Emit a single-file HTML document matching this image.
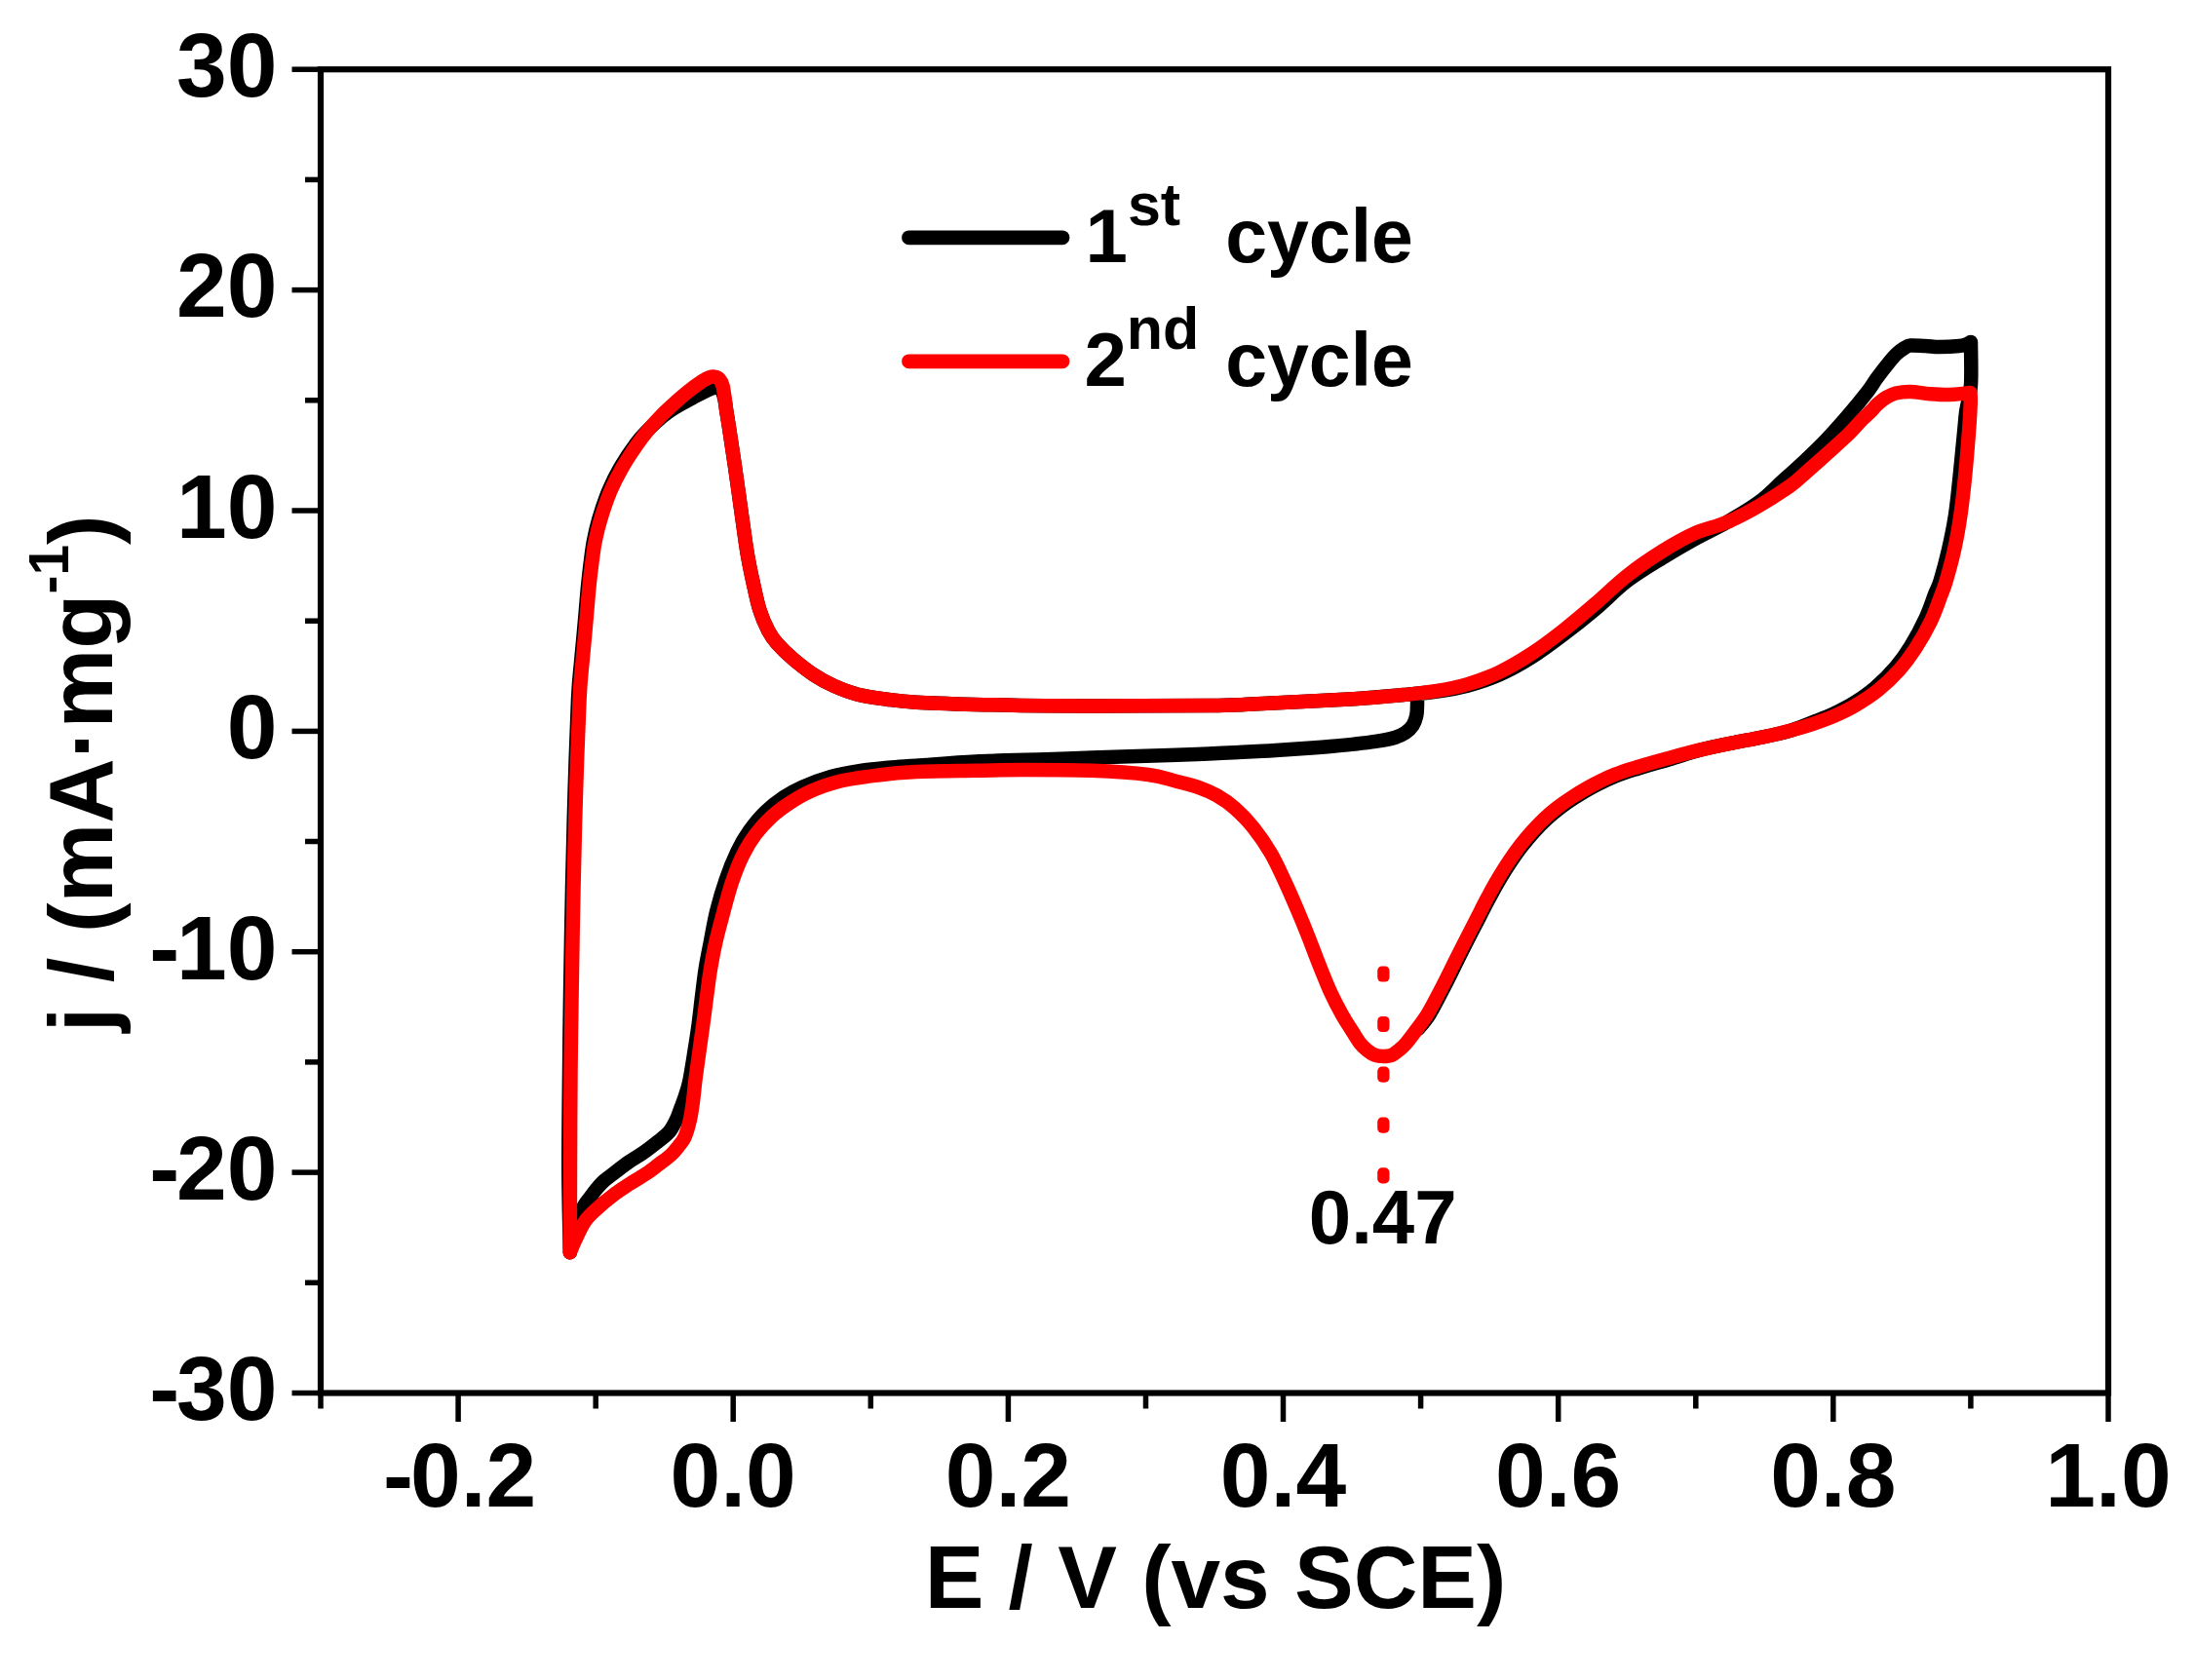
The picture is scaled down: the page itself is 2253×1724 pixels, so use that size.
<!DOCTYPE html>
<html lang="en"><head><meta charset="utf-8"><title>Cyclic voltammogram</title>
<style>html,body{margin:0;padding:0;background:#fff;}body{width:2253px;height:1724px;overflow:hidden;}svg{display:block;}text{font-family:"Liberation Sans", Arial, Helvetica, sans-serif;font-weight:bold;fill:#000;}</style></head><body>
<svg width="2253" height="1724" viewBox="0 0 2253 1724">
<rect x="0" y="0" width="2253" height="1724" fill="#fff"/>
<g stroke="#000" fill="none" stroke-linecap="butt">
<rect x="329.0" y="71.2" width="1834.0" height="1358.3" stroke-width="6.2"/>
<line x1="299.5" y1="1429.5" x2="329.0" y2="1429.5" stroke-width="5.5"/>
<line x1="313.0" y1="1316.3" x2="329.0" y2="1316.3" stroke-width="5.5"/>
<line x1="299.5" y1="1203.1" x2="329.0" y2="1203.1" stroke-width="5.5"/>
<line x1="313.0" y1="1089.9" x2="329.0" y2="1089.9" stroke-width="5.5"/>
<line x1="299.5" y1="976.7" x2="329.0" y2="976.7" stroke-width="5.5"/>
<line x1="313.0" y1="863.5" x2="329.0" y2="863.5" stroke-width="5.5"/>
<line x1="299.5" y1="750.4" x2="329.0" y2="750.4" stroke-width="5.5"/>
<line x1="313.0" y1="637.2" x2="329.0" y2="637.2" stroke-width="5.5"/>
<line x1="299.5" y1="524.0" x2="329.0" y2="524.0" stroke-width="5.5"/>
<line x1="313.0" y1="410.8" x2="329.0" y2="410.8" stroke-width="5.5"/>
<line x1="299.5" y1="297.6" x2="329.0" y2="297.6" stroke-width="5.5"/>
<line x1="313.0" y1="184.4" x2="329.0" y2="184.4" stroke-width="5.5"/>
<line x1="299.5" y1="71.2" x2="329.0" y2="71.2" stroke-width="5.5"/>
<line x1="329.0" y1="1429.5" x2="329.0" y2="1445.5" stroke-width="5.5"/>
<line x1="470.1" y1="1429.5" x2="470.1" y2="1459.0" stroke-width="5.5"/>
<line x1="611.2" y1="1429.5" x2="611.2" y2="1445.5" stroke-width="5.5"/>
<line x1="752.2" y1="1429.5" x2="752.2" y2="1459.0" stroke-width="5.5"/>
<line x1="893.3" y1="1429.5" x2="893.3" y2="1445.5" stroke-width="5.5"/>
<line x1="1034.4" y1="1429.5" x2="1034.4" y2="1459.0" stroke-width="5.5"/>
<line x1="1175.5" y1="1429.5" x2="1175.5" y2="1445.5" stroke-width="5.5"/>
<line x1="1316.5" y1="1429.5" x2="1316.5" y2="1459.0" stroke-width="5.5"/>
<line x1="1457.6" y1="1429.5" x2="1457.6" y2="1445.5" stroke-width="5.5"/>
<line x1="1598.7" y1="1429.5" x2="1598.7" y2="1459.0" stroke-width="5.5"/>
<line x1="1739.8" y1="1429.5" x2="1739.8" y2="1445.5" stroke-width="5.5"/>
<line x1="1880.8" y1="1429.5" x2="1880.8" y2="1459.0" stroke-width="5.5"/>
<line x1="2021.9" y1="1429.5" x2="2021.9" y2="1445.5" stroke-width="5.5"/>
<line x1="2163.0" y1="1429.5" x2="2163.0" y2="1459.0" stroke-width="5.5"/>
</g>
<g font-size="93" text-anchor="end">
<text x="284.5" y="1457.3">-<tspan dx="-3.2">30</tspan></text>
<text x="284.5" y="1230.9">-<tspan dx="-3.2">20</tspan></text>
<text x="284.5" y="1004.5">-<tspan dx="-3.2">10</tspan></text>
<text x="284.5" y="778.1">0</text>
<text x="284.5" y="551.8">10</text>
<text x="284.5" y="325.4">20</text>
<text x="284.5" y="99.0">30</text>
</g>
<g font-size="93" text-anchor="middle">
<text x="471.6" y="1546.3">-<tspan dx="-3">0.2</tspan></text>
<text x="752.2" y="1546.3">0.0</text>
<text x="1034.4" y="1546.3">0.2</text>
<text x="1316.5" y="1546.3">0.4</text>
<text x="1598.7" y="1546.3">0.6</text>
<text x="1880.8" y="1546.3">0.8</text>
<text x="2163.0" y="1546.3">1.0</text>
</g>
<text x="1247" y="1650.3" font-size="91" text-anchor="middle">E / V (vs SCE)</text>
<text transform="translate(114.7 793.8) rotate(-90)" font-size="92" text-anchor="middle">j / (mA·mg<tspan font-size="57" dy="-44.8">-1</tspan><tspan dy="44.8">)</tspan></text>
<path d="M1454.0 714.0C1454.0 715.6 1454.1 720.3 1454.0 723.7C1453.9 727.1 1454.0 731.1 1453.2 734.6C1452.4 738.1 1451.3 741.6 1449.4 744.5C1447.5 747.4 1444.8 749.9 1441.7 752.0C1438.6 754.1 1435.9 755.5 1430.8 757.0C1425.7 758.5 1417.9 759.8 1411.0 760.9C1404.1 762.0 1396.6 762.8 1389.3 763.6C1382.0 764.4 1374.7 765.2 1367.4 765.8C1360.1 766.4 1352.9 766.9 1345.6 767.4C1338.3 767.9 1331.0 768.5 1323.7 769.0C1316.4 769.5 1309.2 770.0 1301.9 770.4C1294.6 770.8 1290.3 771.1 1280.0 771.6C1269.7 772.1 1253.3 772.8 1240.0 773.4C1226.7 774.0 1220.0 774.3 1200.0 775.0C1180.0 775.7 1141.2 776.9 1120.0 777.6C1098.8 778.3 1092.8 778.6 1073.0 779.3C1053.2 779.9 1023.2 780.4 1001.0 781.5C978.8 782.6 955.0 784.7 940.0 785.7C925.0 786.7 920.9 786.8 911.1 787.7C901.4 788.6 891.3 789.6 881.5 791.1C871.7 792.6 862.2 794.2 852.5 797.0C842.8 799.8 831.4 804.1 823.4 807.6C815.4 811.1 810.6 813.8 804.2 818.1C797.8 822.4 791.1 827.5 785.2 833.2C779.3 838.9 773.7 845.8 768.9 852.5C764.1 859.2 760.5 865.3 756.5 873.6C752.5 881.9 748.3 892.3 744.8 902.5C741.2 912.7 737.8 924.4 735.2 935.0C732.6 945.6 730.9 956.1 729.0 966.0C727.1 975.9 725.2 984.8 723.7 994.3C722.2 1003.8 721.2 1013.5 720.0 1023.0C718.8 1032.5 717.9 1041.9 716.6 1051.4C715.3 1060.9 713.8 1070.5 712.3 1080.0C710.8 1089.5 709.0 1101.2 707.5 1108.6C706.0 1116.0 704.5 1119.9 703.0 1124.6C701.5 1129.3 700.0 1132.9 698.5 1137.0C697.0 1141.1 695.8 1145.1 693.8 1149.2C691.8 1153.3 689.7 1157.8 686.6 1161.5C683.5 1165.2 679.1 1168.2 675.0 1171.5C670.9 1174.8 667.0 1178.0 662.0 1181.5C657.0 1185.0 650.2 1188.9 645.0 1192.5C639.8 1196.1 635.2 1199.8 631.0 1203.0C626.8 1206.2 623.2 1208.7 620.0 1211.5C616.8 1214.3 614.3 1217.2 612.0 1220.0C609.7 1222.8 608.0 1225.3 606.0 1228.0C604.0 1230.7 602.0 1232.8 600.0 1236.0C598.0 1239.2 595.7 1243.3 594.0 1247.0C592.3 1250.7 591.3 1253.8 590.0 1258.0C588.7 1262.2 586.9 1267.5 586.0 1272.0C585.1 1276.5 585.0 1283.1 584.8 1285.3C584.5 1271.1 583.4 1230.9 583.3 1200.0C583.2 1169.1 583.7 1130.0 584.0 1100.0C584.3 1070.0 584.5 1051.5 585.0 1020.0C585.5 988.5 586.2 945.3 587.0 911.0C587.8 876.7 588.5 846.3 589.5 814.0C590.5 781.7 591.9 739.3 593.0 717.0C594.1 694.7 595.0 691.2 596.0 680.0C597.0 668.8 598.0 659.2 598.8 650.0C599.6 640.8 600.3 633.3 601.0 625.0C601.7 616.7 602.4 607.8 603.2 600.0C604.0 592.2 604.8 585.3 605.7 578.0C606.6 570.7 607.4 563.5 608.8 556.0C610.2 548.5 611.6 541.8 614.2 533.0C616.8 524.2 620.7 512.4 624.4 503.5C628.1 494.6 631.6 487.8 636.3 479.7C641.0 471.6 647.7 461.5 652.6 455.0C657.5 448.5 661.3 444.9 665.5 440.5C669.7 436.1 673.9 432.2 678.0 428.8C682.1 425.4 684.5 423.3 690.0 419.8C695.5 416.3 704.6 411.4 711.0 408.0C717.4 404.6 724.3 400.9 728.5 399.2C732.7 397.5 733.9 397.5 736.0 398.0C738.1 398.5 739.8 400.0 741.0 402.0C742.2 404.0 742.8 406.7 743.5 410.0C744.2 413.3 744.5 417.0 745.3 422.0C746.1 427.0 746.8 430.9 748.2 440.0C749.6 449.1 751.6 462.3 753.7 476.6C755.8 490.9 758.4 510.4 760.6 525.7C762.8 541.0 764.8 556.7 766.8 568.6C768.8 580.5 770.4 587.6 772.5 597.1C774.6 606.6 776.7 617.4 779.3 625.7C781.9 634.0 785.2 641.4 788.2 647.1C791.2 652.8 792.7 655.1 797.0 660.0C801.3 664.9 807.6 671.1 814.0 676.5C820.4 681.9 828.2 688.1 835.1 692.6C842.0 697.1 847.7 700.4 855.2 703.7C862.7 707.1 871.0 710.4 880.2 712.7C889.4 715.0 900.3 716.4 910.3 717.7C920.3 719.0 925.3 719.8 940.3 720.7C955.2 721.6 977.9 722.3 1000.0 722.9C1022.1 723.5 1044.5 724.1 1073.0 724.3C1101.5 724.5 1143.2 724.3 1171.0 724.3C1198.8 724.2 1221.8 724.2 1240.0 724.0C1258.2 723.8 1255.2 723.9 1280.0 722.8C1304.8 721.7 1362.3 718.8 1389.0 717.2C1415.7 715.6 1426.0 714.2 1440.0 713.0C1454.0 711.8 1461.9 711.2 1472.8 709.7C1483.7 708.2 1494.7 706.6 1505.6 703.7C1516.5 700.8 1527.5 697.2 1538.4 692.4C1549.3 687.6 1560.2 681.6 1571.1 674.7C1582.0 667.9 1593.0 659.6 1603.9 651.3C1614.8 643.0 1625.8 634.3 1636.7 625.1C1647.6 615.9 1658.0 604.9 1669.5 596.1C1681.0 587.3 1694.1 579.6 1705.6 572.5C1717.1 565.4 1727.5 559.3 1738.4 553.3C1749.3 547.2 1760.0 542.6 1771.1 536.2C1782.2 529.8 1795.1 522.2 1804.8 515.1C1814.5 508.0 1821.3 500.4 1829.0 493.5C1836.7 486.6 1843.7 480.4 1851.0 473.5C1858.3 466.6 1865.7 459.7 1873.0 452.0C1880.3 444.3 1887.8 435.8 1895.0 427.5C1902.2 419.2 1910.9 408.6 1916.0 402.0C1921.1 395.4 1921.9 393.0 1925.6 388.0C1929.3 383.0 1934.6 376.2 1938.0 372.0C1941.4 367.8 1943.3 365.5 1946.0 363.0C1948.7 360.5 1951.7 358.4 1954.0 357.0C1956.3 355.6 1956.5 354.8 1960.0 354.5C1963.5 354.2 1970.0 354.8 1975.0 355.0C1980.0 355.2 1984.2 356.0 1990.0 356.0C1995.8 356.0 2005.3 355.5 2010.0 355.0C2014.7 354.5 2016.0 353.7 2018.0 353.0C2020.0 352.3 2021.3 351.3 2022.0 351.0C2022.0 358.3 2022.8 383.3 2022.0 395.0C2021.2 406.7 2018.5 413.4 2017.3 421.4C2016.1 429.4 2016.2 432.2 2015.1 442.9C2014.0 453.6 2012.4 471.4 2010.9 485.7C2009.4 500.0 2008.0 515.5 2006.0 528.6C2004.0 541.7 2001.6 553.1 1999.0 564.3C1996.4 575.5 1992.9 588.4 1990.6 596.0C1988.3 603.6 1987.5 603.6 1985.0 610.0C1982.5 616.4 1979.6 625.7 1975.5 634.5C1971.4 643.3 1965.4 654.7 1960.3 663.0C1955.2 671.3 1951.1 677.3 1945.0 684.5C1938.9 691.7 1930.6 699.9 1923.5 706.0C1916.4 712.1 1909.4 716.8 1902.3 721.2C1895.2 725.6 1888.1 729.2 1881.0 732.6C1873.9 736.0 1866.6 738.5 1859.5 741.3C1852.4 744.1 1845.5 747.0 1838.3 749.3C1831.1 751.5 1822.8 753.3 1816.4 754.8C1810.0 756.3 1806.5 756.9 1800.0 758.1C1793.5 759.4 1786.9 760.4 1777.7 762.3C1768.5 764.2 1755.7 766.6 1744.9 769.4C1734.1 772.2 1723.6 776.0 1712.8 779.2C1702.0 782.4 1689.3 785.9 1680.2 788.7C1671.1 791.5 1665.6 793.1 1658.4 796.0C1651.2 798.9 1644.0 802.4 1636.8 806.2C1629.6 810.0 1621.2 815.0 1615.0 819.0C1608.8 823.0 1604.1 826.3 1599.3 830.0C1594.5 833.7 1590.7 837.0 1586.4 841.0C1582.1 845.0 1577.6 849.6 1573.5 854.2C1569.4 858.8 1565.6 863.3 1561.6 868.4C1557.6 873.5 1553.6 879.2 1549.7 885.0C1545.8 890.8 1542.1 896.8 1538.4 903.0C1534.7 909.2 1531.2 915.8 1527.7 922.2C1524.2 928.6 1521.0 935.1 1517.7 941.6C1514.4 948.1 1511.5 953.6 1507.7 961.0C1504.0 968.4 1499.5 977.2 1495.2 985.8C1490.9 994.4 1486.5 1003.6 1481.7 1012.8C1477.0 1022.0 1471.2 1033.6 1466.7 1040.8C1462.2 1048.0 1457.0 1053.5 1455.0 1056.0" fill="none" stroke="#000" stroke-width="14.5" stroke-linejoin="round" stroke-linecap="round"/>
<path d="M2021.5 403.0C2021.5 404.9 2022.0 407.7 2021.7 414.3C2021.5 420.9 2020.9 431.0 2020.0 442.9C2019.1 454.8 2017.8 471.4 2016.4 485.7C2015.0 500.0 2013.3 515.5 2011.4 528.6C2009.5 541.7 2007.5 553.1 2005.0 564.3C2002.5 575.5 1999.0 588.0 1996.7 596.0C1994.4 604.0 1993.6 605.1 1991.0 612.0C1988.4 618.9 1985.3 628.3 1981.0 637.3C1976.7 646.2 1970.4 657.3 1965.0 665.7C1959.6 674.1 1955.0 680.4 1948.5 687.6C1942.0 694.8 1933.5 702.9 1926.0 708.9C1918.5 714.9 1911.1 719.4 1903.8 723.7C1896.5 728.0 1889.3 731.4 1882.0 734.6C1874.7 737.8 1867.4 740.3 1860.1 742.8C1852.8 745.2 1845.6 747.3 1838.3 749.3C1831.0 751.3 1822.8 753.3 1816.4 754.8C1810.0 756.3 1806.5 756.9 1800.0 758.1C1793.5 759.4 1786.9 760.4 1777.7 762.3C1768.5 764.2 1755.8 766.8 1744.9 769.4C1734.0 772.0 1723.0 774.9 1712.1 777.9C1701.2 780.9 1688.4 784.4 1679.3 787.2C1670.2 790.0 1664.7 791.6 1657.4 794.5C1650.1 797.4 1642.9 800.9 1635.6 804.7C1628.3 808.5 1620.0 813.5 1613.7 817.5C1607.4 821.5 1602.8 824.8 1598.0 828.5C1593.2 832.2 1589.3 835.5 1585.0 839.5C1580.7 843.5 1576.2 848.2 1572.0 852.8C1567.8 857.4 1564.0 862.0 1560.0 867.2C1556.0 872.4 1551.9 878.2 1548.0 884.0C1544.1 889.8 1540.4 895.8 1536.7 902.0C1533.0 908.2 1529.5 914.8 1526.0 921.3C1522.5 927.8 1519.3 934.3 1516.0 940.8C1512.7 947.3 1509.8 952.9 1506.0 960.3C1502.2 967.7 1497.8 976.4 1493.5 985.0C1489.2 993.6 1484.8 1002.8 1480.0 1012.0C1475.2 1021.2 1469.7 1032.3 1465.0 1040.0C1460.3 1047.7 1455.8 1053.3 1452.0 1058.4C1448.2 1063.5 1445.2 1067.6 1442.5 1070.7C1439.8 1073.8 1438.1 1075.2 1435.7 1077.2C1433.3 1079.2 1430.7 1081.6 1428.0 1082.7C1425.3 1083.8 1422.2 1083.9 1419.3 1083.9C1416.4 1083.9 1413.5 1083.8 1410.7 1082.7C1407.9 1081.7 1405.0 1079.6 1402.5 1077.6C1400.0 1075.6 1398.0 1073.9 1395.5 1070.7C1393.0 1067.5 1390.5 1063.2 1387.5 1058.4C1384.5 1053.6 1381.0 1048.7 1377.3 1042.0C1373.5 1035.3 1368.9 1026.5 1365.0 1018.0C1361.1 1009.5 1357.6 1000.4 1353.8 991.0C1350.0 981.6 1346.2 971.1 1342.4 961.4C1338.6 951.7 1334.8 942.4 1330.7 932.9C1326.7 923.4 1322.6 913.8 1318.1 904.3C1313.6 894.8 1309.2 884.8 1303.9 875.7C1298.6 866.6 1292.2 857.2 1286.0 849.5C1279.8 841.8 1273.2 835.0 1267.0 829.5C1260.8 824.0 1254.9 820.0 1248.6 816.4C1242.3 812.8 1236.1 810.2 1229.3 807.8C1222.5 805.4 1216.3 804.1 1207.8 802.0C1199.3 799.9 1192.9 796.9 1178.3 795.0C1163.7 793.1 1141.4 791.6 1120.0 790.8C1098.6 790.0 1069.8 790.0 1050.0 790.0C1030.2 790.0 1019.3 790.5 1001.0 790.8C982.7 791.1 956.8 791.2 940.0 792.0C923.2 792.8 913.7 793.8 900.4 795.5C887.1 797.2 872.0 799.1 860.3 802.0C848.6 804.9 838.7 808.8 830.2 812.6C821.7 816.4 815.6 820.4 809.2 824.6C802.8 828.9 797.3 832.8 791.6 838.1C785.9 843.4 780.0 849.6 775.1 856.2C770.2 862.8 766.0 869.5 762.0 877.7C758.0 885.9 754.2 895.8 751.0 905.3C747.8 914.8 745.2 924.9 742.5 935.0C739.8 945.1 736.8 956.1 734.5 966.0C732.2 975.9 730.6 984.8 729.0 994.3C727.4 1003.8 726.3 1013.5 725.0 1023.0C723.7 1032.5 722.6 1041.9 721.3 1051.4C720.0 1060.9 718.6 1070.5 717.3 1080.0C716.0 1089.5 714.4 1100.3 713.4 1108.6C712.4 1116.9 711.9 1123.2 711.0 1130.0C710.1 1136.8 709.3 1143.0 707.9 1149.2C706.5 1155.4 704.5 1162.5 702.5 1167.0C700.5 1171.5 698.4 1173.4 696.0 1176.5C693.6 1179.6 691.5 1182.3 688.0 1185.5C684.5 1188.7 679.3 1192.2 675.0 1195.5C670.7 1198.8 667.0 1201.7 662.0 1205.0C657.0 1208.3 650.2 1212.2 645.0 1215.5C639.8 1218.8 636.7 1220.7 631.0 1225.0C625.3 1229.3 616.2 1236.8 611.0 1241.6C605.8 1246.3 603.5 1248.3 600.0 1253.5C596.5 1258.7 592.5 1267.7 590.0 1273.0C587.5 1278.3 585.7 1283.2 584.8 1285.3C584.8 1271.1 584.9 1230.9 585.0 1200.0C585.1 1169.1 585.2 1130.0 585.5 1100.0C585.8 1070.0 586.1 1051.5 586.6 1020.0C587.1 988.5 587.8 945.3 588.5 911.0C589.2 876.7 590.0 846.3 591.0 814.0C592.0 781.7 593.5 739.3 594.6 717.0C595.7 694.7 596.5 691.2 597.5 680.0C598.5 668.8 599.5 659.2 600.3 650.0C601.1 640.8 601.8 633.3 602.5 625.0C603.2 616.7 603.9 607.8 604.7 600.0C605.5 592.2 606.3 585.3 607.3 578.0C608.3 570.7 609.0 563.4 610.5 556.0C612.0 548.6 613.4 542.2 616.0 533.6C618.6 525.0 622.5 513.1 626.2 504.3C629.9 495.5 633.4 488.8 638.0 480.7C642.6 472.6 649.4 462.4 654.1 455.7C658.8 448.9 662.0 445.0 666.0 440.2C670.0 435.4 674.0 431.1 678.0 427.0C682.0 422.9 686.2 419.1 690.0 415.6C693.8 412.1 697.5 408.8 701.0 405.9C704.5 402.9 707.8 400.3 711.0 397.9C714.2 395.5 717.3 393.2 720.0 391.5C722.7 389.8 724.8 388.4 727.0 387.6C729.2 386.8 731.2 386.4 733.0 386.6C734.8 386.8 736.6 387.4 738.0 389.0C739.4 390.6 740.6 392.8 741.5 396.0C742.4 399.2 742.9 403.7 743.5 408.0C744.1 412.3 744.5 416.7 745.3 422.0C746.1 427.3 746.8 430.9 748.2 440.0C749.6 449.1 751.6 462.3 753.7 476.6C755.8 490.9 758.4 510.4 760.6 525.7C762.8 541.0 764.8 556.7 766.8 568.6C768.8 580.5 770.4 587.6 772.5 597.1C774.6 606.6 776.7 617.4 779.3 625.7C781.9 634.0 785.2 641.4 788.2 647.1C791.2 652.8 792.7 655.1 797.0 660.0C801.3 664.9 807.6 671.1 814.0 676.5C820.4 681.9 828.2 688.1 835.1 692.6C842.0 697.1 847.7 700.4 855.2 703.7C862.7 707.1 871.0 710.4 880.2 712.7C889.4 715.0 900.3 716.4 910.3 717.7C920.3 719.0 925.3 719.8 940.3 720.7C955.2 721.6 977.9 722.3 1000.0 722.9C1022.1 723.5 1044.5 724.1 1073.0 724.3C1101.5 724.5 1143.2 724.3 1171.0 724.3C1198.8 724.2 1221.8 724.2 1240.0 724.0C1258.2 723.8 1255.2 723.9 1280.0 722.8C1304.8 721.7 1362.3 718.8 1389.0 717.2C1415.7 715.6 1426.0 714.3 1440.0 713.0C1454.0 711.7 1461.9 711.0 1472.8 709.2C1483.7 707.4 1494.7 705.4 1505.6 702.1C1516.5 698.9 1527.5 694.9 1538.4 689.7C1549.3 684.5 1560.2 678.0 1571.1 670.9C1582.0 663.8 1593.0 655.4 1603.9 646.9C1614.8 638.4 1625.8 629.0 1636.7 619.6C1647.6 610.2 1658.0 599.6 1669.5 590.6C1681.0 581.6 1694.1 572.7 1705.6 565.5C1717.1 558.3 1727.5 552.3 1738.4 547.4C1749.3 542.5 1760.2 540.9 1771.1 536.2C1782.0 531.6 1793.0 525.8 1803.9 519.5C1814.8 513.2 1828.5 504.3 1836.7 498.5C1844.9 492.7 1846.6 490.2 1852.9 484.7C1859.2 479.2 1867.4 471.9 1874.7 465.4C1882.0 458.8 1890.7 451.1 1896.6 445.4C1902.5 439.7 1906.1 435.0 1910.0 431.0C1913.9 427.0 1917.3 424.2 1920.0 421.5C1922.7 418.8 1923.5 417.2 1926.0 415.0C1928.5 412.8 1931.8 409.9 1935.0 408.0C1938.2 406.1 1940.8 404.5 1945.0 403.5C1949.2 402.5 1954.2 401.9 1960.0 402.0C1965.8 402.1 1973.3 403.7 1980.0 404.2C1986.7 404.7 1994.2 405.1 2000.0 405.0C2005.8 404.9 2011.4 404.1 2015.0 403.8C2018.6 403.5 2020.4 403.1 2021.5 403.0Z" fill="none" stroke="#ff0000" stroke-width="14.5" stroke-linejoin="round" stroke-linecap="round"/>
<g fill="#ff0000">
<rect x="1413.2" y="991.4" width="12.3" height="16.2" rx="4.6" ry="5"/>
<rect x="1413.2" y="1042.9" width="12.3" height="16.2" rx="4.6" ry="5"/>
<rect x="1413.2" y="1094.5" width="12.3" height="16.2" rx="4.6" ry="5"/>
<rect x="1413.2" y="1146.5" width="12.3" height="16.2" rx="4.6" ry="5"/>
<rect x="1413.2" y="1198.2" width="12.3" height="16.2" rx="4.6" ry="5"/>
</g>
<text x="1418.7" y="1276" font-size="78" text-anchor="middle">0.47</text>
<line x1="932.5" y1="243.8" x2="1090" y2="243.8" stroke="#000" stroke-width="14.8" stroke-linecap="round"/>
<line x1="932.5" y1="370.8" x2="1090" y2="370.8" stroke="#f00" stroke-width="14.8" stroke-linecap="round"/>
<text x="1113.5" y="269.2" font-size="78">1<tspan font-size="61" dy="-37.9">st</tspan></text>
<text x="1257.2" y="269.2" font-size="77">cycle</text>
<text x="1112.4" y="396.4" font-size="78">2<tspan font-size="61" dy="-38.1">nd</tspan></text>
<text x="1257.2" y="396.4" font-size="77">cycle</text>
</svg></body></html>
